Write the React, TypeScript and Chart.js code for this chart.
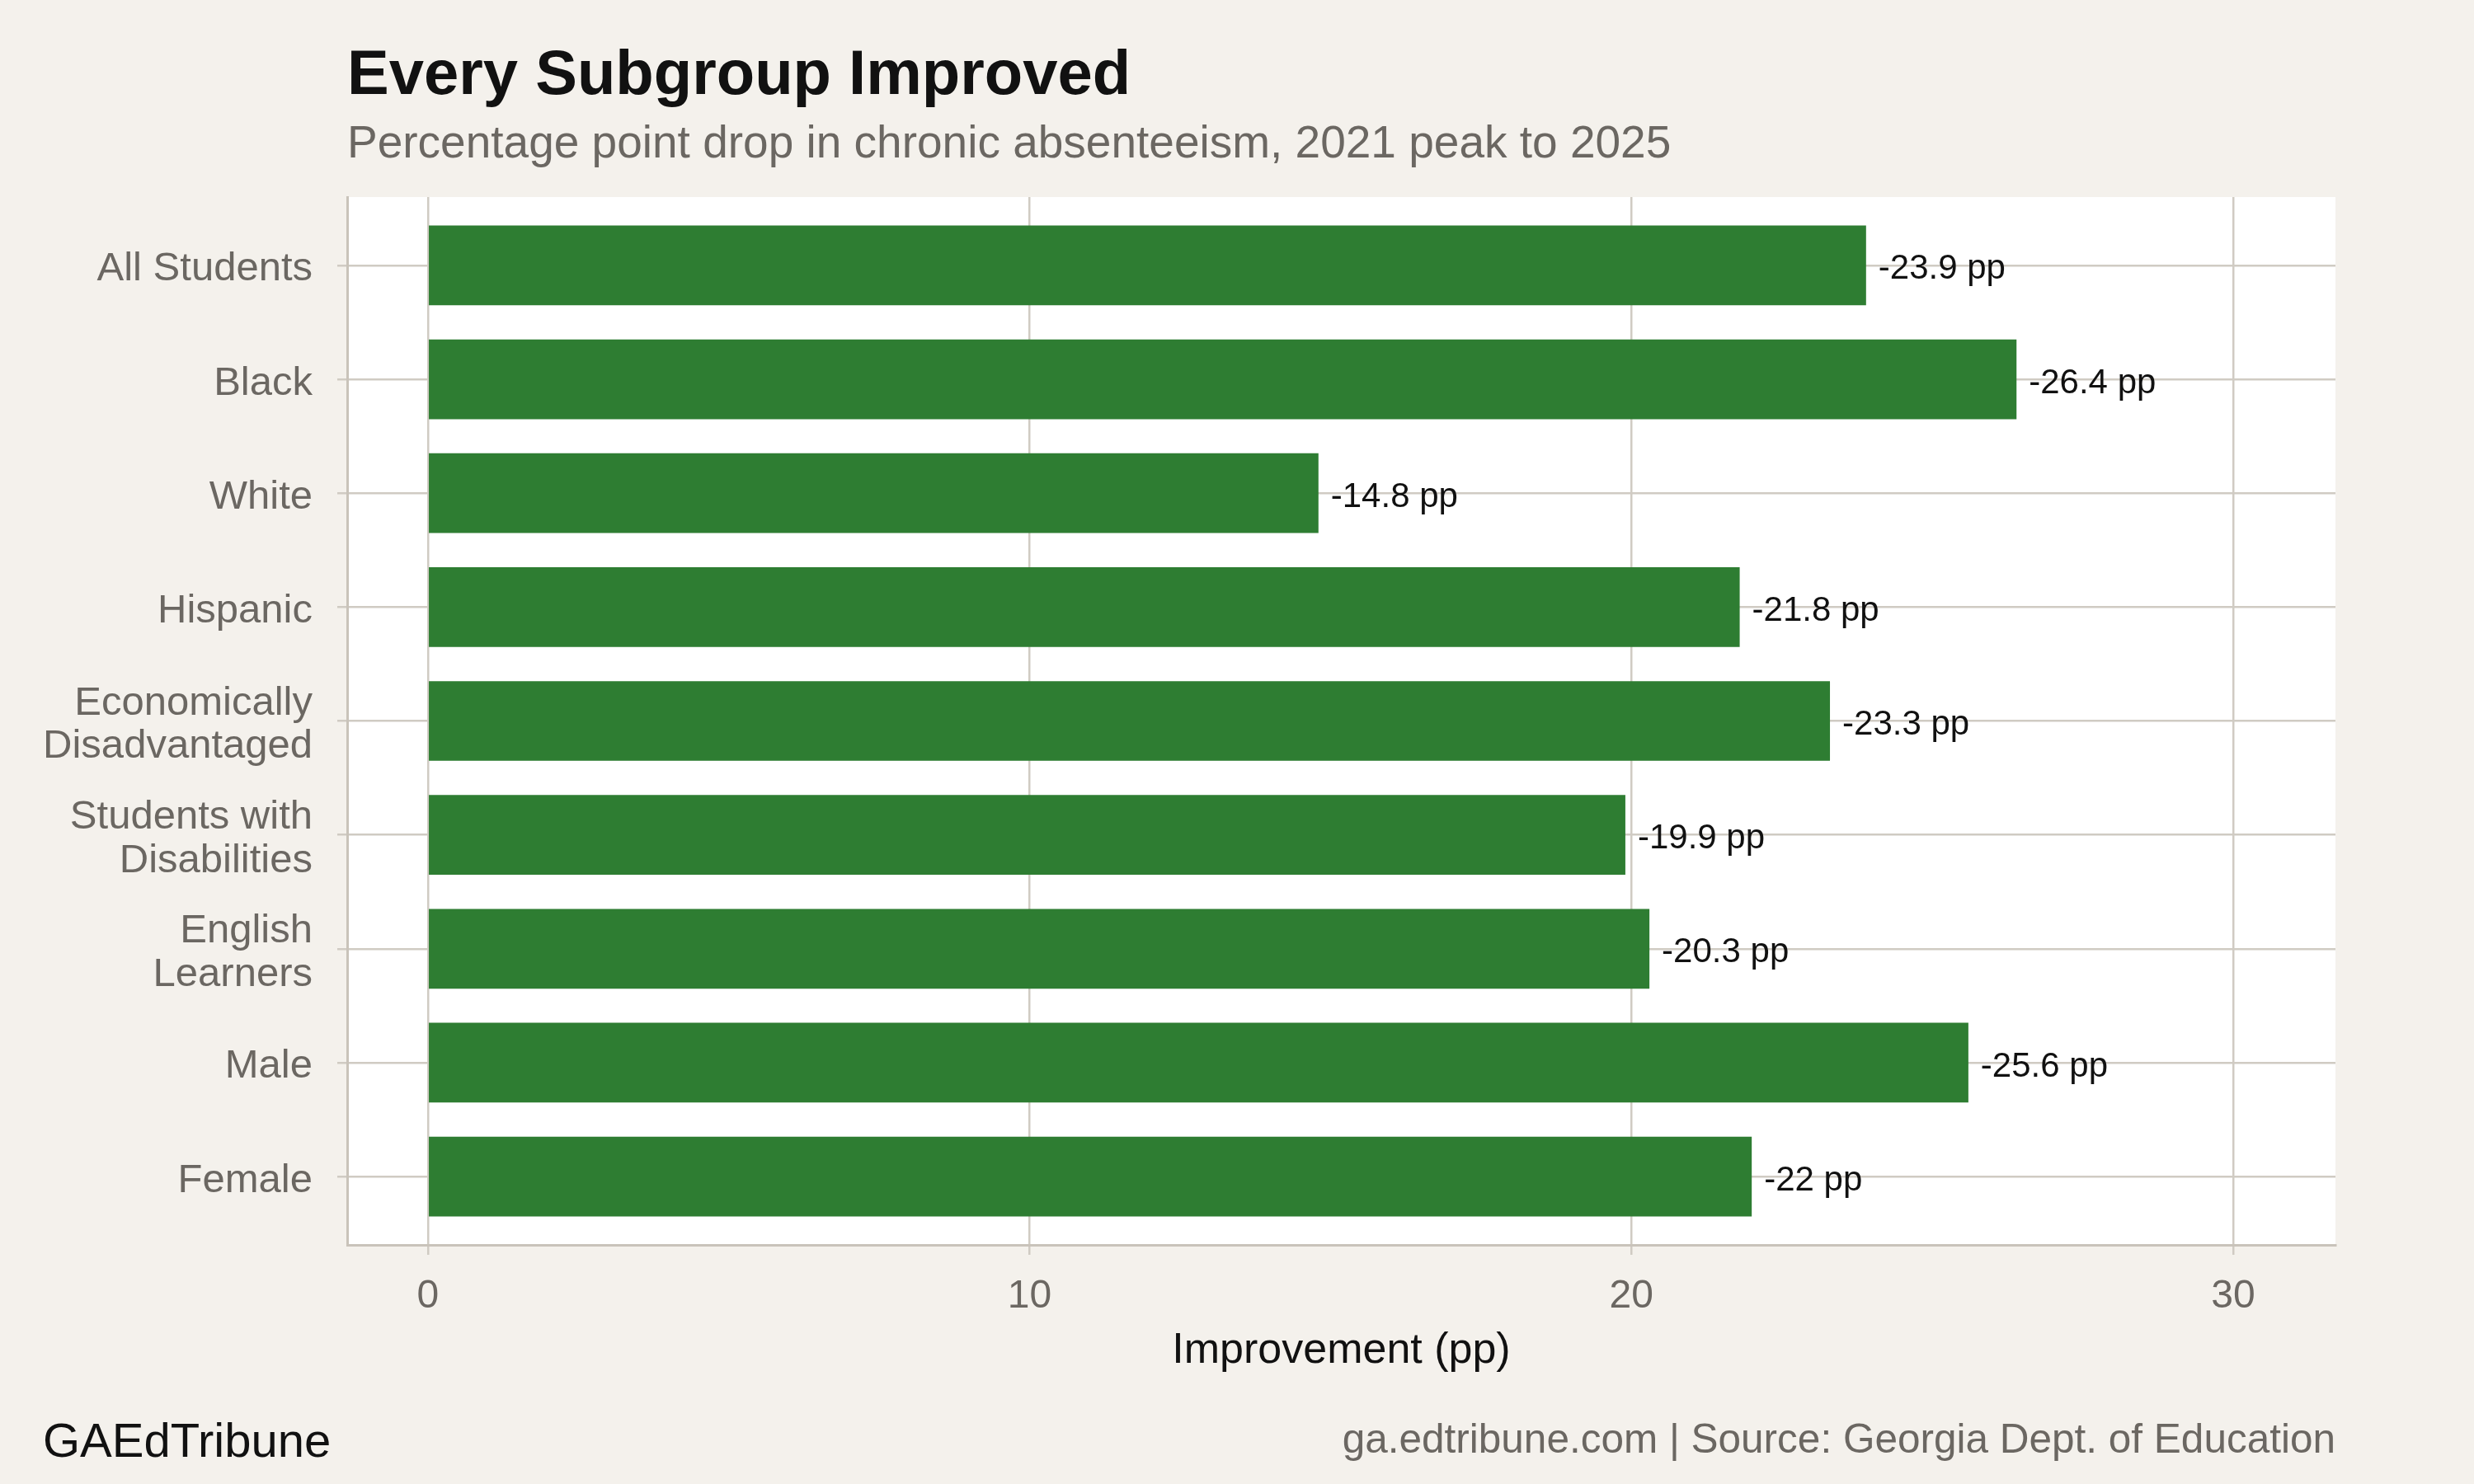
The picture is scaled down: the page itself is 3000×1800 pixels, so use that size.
import React, { useEffect, useRef } from "react";
import { Chart, registerables } from "chart.js";

Chart.register(...registerables);

// Subgroups, top to bottom, with their wrapped axis labels
const categories = [
  "All Students",
  "Black",
  "White",
  "Hispanic",
  "Economically Disadvantaged",
  "Students with Disabilities",
  "English Learners",
  "Male",
  "Female",
];
const categoryLines = [
  ["All Students"],
  ["Black"],
  ["White"],
  ["Hispanic"],
  ["Economically", "Disadvantaged"],
  ["Students with", "Disabilities"],
  ["English", "Learners"],
  ["Male"],
  ["Female"],
];
// Percentage point drop, 2021 peak to 2025
const improvement = [23.9, 26.4, 14.8, 21.8, 23.3, 19.9, 20.3, 25.6, 22];
const xTicks = [0, 10, 20, 30];

const titleText = "Every Subgroup Improved";
const subtitleText = "Percentage point drop in chronic absenteeism, 2021 peak to 2025";
const xAxisTitle = "Improvement (pp)";
const brandText = "GAEdTribune";
const sourceText = "ga.edtribune.com | Source: Georgia Dept. of Education";

const FONT = "'Liberation Sans', Arial, Helvetica, sans-serif";
const BG = "#f4f1ec";
const PANEL = "#ffffff";
const GRID = "#d0cbc3";
const AXIS = "#c9c3ba";
const GREEN = "#2e7d32";
const GRAY_TEXT = "#6b6762";

const W = 3000;
const H = 1800;
const PANEL_LEFT = 421;
const PANEL_RIGHT = 2832;
const PANEL_TOP = 239;
const PANEL_BOTTOM = 1510;
const X_AXIS_HEIGHT = 170;

const backdropPlugin = {
  id: "backdrop",
  beforeDraw(chart: any) {
    const { ctx, chartArea } = chart;
    ctx.save();
    ctx.fillStyle = BG;
    ctx.fillRect(0, 0, chart.width, chart.height);
    ctx.fillStyle = PANEL;
    ctx.fillRect(chartArea.left, chartArea.top, chartArea.right - chartArea.left, chartArea.bottom - chartArea.top);
    ctx.restore();
  },
  afterDraw(chart: any) {
    const { ctx, chartArea } = chart;
    ctx.save();
    ctx.textBaseline = "alphabetic";
    ctx.textAlign = "left";
    ctx.fillStyle = "#111111";
    ctx.font = `bold 76px ${FONT}`;
    ctx.fillText(titleText, chartArea.left, 114);
    ctx.fillStyle = GRAY_TEXT;
    ctx.font = `55px ${FONT}`;
    ctx.fillText(subtitleText, chartArea.left, 191);

    ctx.fillStyle = "#111111";
    ctx.font = `58px ${FONT}`;
    ctx.fillText(brandText, 52, 1767);
    ctx.fillStyle = GRAY_TEXT;
    ctx.font = `49.5px ${FONT}`;
    ctx.textAlign = "right";
    ctx.fillText(sourceText, chartArea.right, 1762);
    ctx.restore();
  },
};

const valueLabelPlugin = {
  id: "valueLabels",
  afterDatasetsDraw(chart: any) {
    const { ctx } = chart;
    const meta = chart.getDatasetMeta(0);
    ctx.save();
    ctx.fillStyle = "#111111";
    ctx.font = `42px ${FONT}`;
    ctx.textAlign = "left";
    ctx.textBaseline = "middle";
    meta.data.forEach((bar: any, i: number) => {
      ctx.fillText(`-${improvement[i]} pp`, bar.x + 15, bar.y + 5);
    });
    ctx.restore();
  },
};

export default function App() {
  const canvasRef = useRef<HTMLCanvasElement | null>(null);

  useEffect(() => {
    const canvas = canvasRef.current;
    if (!canvas) return;
    Chart.defaults.font.family = FONT;

    const chart = new Chart(canvas, {
      type: "bar",
      data: {
        labels: categories,
        datasets: [
          {
            label: "Improvement (pp)",
            data: improvement.map((v, i) => ({ x: v, y: i })),
            backgroundColor: GREEN,
            borderWidth: 0,
            barPercentage: 0.7,
            categoryPercentage: 1,
          },
        ],
      },
      options: {
        indexAxis: "y",
        responsive: false,
        animation: false,
        events: [],
        layout: {
          padding: {
            left: 0,
            top: PANEL_TOP,
            right: W - PANEL_RIGHT,
            bottom: H - PANEL_BOTTOM - X_AXIS_HEIGHT,
          },
        },
        plugins: {
          legend: { display: false },
          tooltip: { enabled: false },
          title: { display: false },
        },
        scales: {
          x: {
            type: "linear",
            position: "bottom",
            min: -1.34,
            max: 31.7,
            afterBuildTicks(scale: any) {
              scale.ticks = xTicks.map((v) => ({ value: v }));
            },
            afterFit(scale: any) {
              scale.height = X_AXIS_HEIGHT;
            },
            grid: {
              color: GRID,
              lineWidth: 2.5,
              tickLength: 12,
              drawTicks: true,
            },
            border: { display: true, color: AXIS, width: 3 },
            ticks: {
              color: GRAY_TEXT,
              font: { size: 48 },
              padding: 22,
              maxRotation: 0,
              callback: (v: any) => String(v),
            },
            title: {
              display: true,
              text: xAxisTitle,
              color: "#111111",
              font: { size: 52 },
              padding: { top: 0, bottom: 10 },
            },
          },
          y: {
            type: "linear",
            position: "left",
            reverse: true,
            offset: false,
            min: -0.6,
            max: 8.6,
            afterBuildTicks(scale: any) {
              scale.ticks = categories.map((_, i) => ({ value: i }));
            },
            afterFit(scale: any) {
              scale.width = PANEL_LEFT;
            },
            grid: {
              offset: false,
              color: GRID,
              lineWidth: 2.5,
              tickLength: 12,
              drawTicks: true,
            },
            border: { display: true, color: AXIS, width: 3 },
            ticks: {
              color: GRAY_TEXT,
              font: { size: 49, lineHeight: 1.08 },
              padding: 30,
              labelOffset: 5,
              callback: (v: any) => categoryLines[v] ?? "",
            },
          },
        },
      },
      plugins: [backdropPlugin, valueLabelPlugin],
    } as any);

    return () => chart.destroy();
  }, []);

  return (
    <div style={{ position: "fixed", left: 0, top: 0, width: W, height: H, background: BG }}>
      <canvas ref={canvasRef} width={W} height={H} style={{ width: W, height: H, display: "block" }} />
    </div>
  );
}
